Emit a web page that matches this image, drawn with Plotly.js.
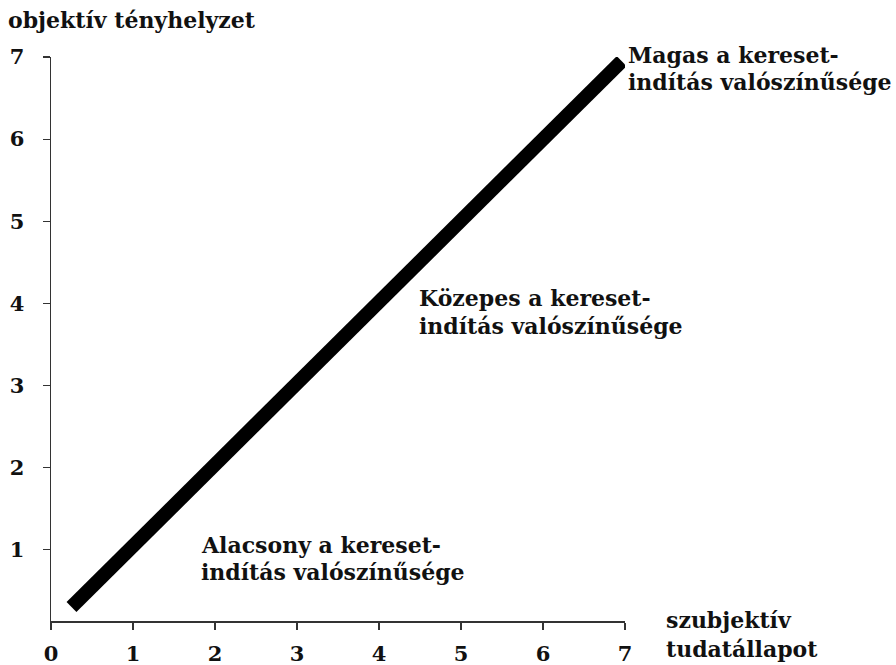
<!DOCTYPE html>
<html>
<head>
<meta charset="utf-8">
<script src="https://cdn.plot.ly/plotly-3.0.1.min.js"></script>
<style>html,body{margin:0;padding:0;background:#fff;}#chart{width:896px;height:665px;}</style>
</head>
<body>
<div id="chart"></div>
<script>
// Data
const lineX = [0.25, 6.96];
const lineY = [0.30, 6.95];
const xTicks = [0, 1, 2, 3, 4, 5, 6, 7];
const yTicks = [1, 2, 3, 4, 5, 6, 7];
const yAxisLabel = "objektív tényhelyzet";
const xAxisLabelLines = ["szubjektív", "tudatállapot"];
const highLabelLines = ["Magas a kereset-", "indítás valószínűsége"];
const midLabelLines = ["Közepes a kereset-", "indítás valószínűsége"];
const lowLabelLines = ["Alacsony a kereset-", "indítás valószínűsége"];

const FONT = "'DejaVu Serif', 'Liberation Serif', serif";
const W = 896, H = 665;
const L = 51, R = 271, T = 57, B = 44;
const pw = W - L - R, ph = H - T - B;
const px = x => (x - L) / pw;
const py = y => (H - B - y) / ph;

function textLines(lines, left, firstCenter, spacing, size) {
  return lines.map((t, i) => ({
    text: "<b>" + t + "</b>",
    xref: "paper", yref: "paper",
    x: px(left), y: py(firstCenter + i * spacing),
    xanchor: "left", yanchor: "middle",
    showarrow: false,
    font: {family: FONT, size: size, color: "#111"}
  }));
}

const annotations = [].concat(
  textLines([yAxisLabel], 6, 20, 0, 22),
  textLines(highLabelLines, 626, 55, 27, 22),
  textLines(midLabelLines, 417, 298, 28, 22),
  textLines(lowLabelLines, 199, 545, 27, 22),
  textLines(xAxisLabelLines, 664, 620, 29, 22)
);

const trace = {
  x: lineX, y: lineY, mode: "lines", type: "scatter",
  line: {color: "#000", width: 14},
  hoverinfo: "skip"
};

const axisCommon = {
  showgrid: false, zeroline: false, showline: true,
  linecolor: "#333", linewidth: 1.5,
  ticks: "outside", ticklen: 7, tickcolor: "#333", tickwidth: 1.2,
  tickfont: {family: FONT, size: 21, color: "#111"},
  fixedrange: true
};

const layout = {
  width: W, height: H, autosize: false,
  margin: {l: L, r: R, t: T, b: B, pad: 0},
  paper_bgcolor: "#fff", plot_bgcolor: "#fff",
  showlegend: false,
  xaxis: Object.assign({}, axisCommon, {
    range: [0, 7], tickvals: xTicks, ticktext: xTicks.map(v => "<b>" + v + "</b>"),
    ticklabelstandoff: 6
  }),
  yaxis: Object.assign({}, axisCommon, {
    range: [0.13, 7], tickvals: yTicks, ticktext: yTicks.map(v => "<b>" + v + "</b>"),
    ticklabelstandoff: 14
  }),
  annotations: annotations
};

Plotly.newPlot("chart", [trace], layout, {displayModeBar: false, staticPlot: true});
</script>
</body>
</html>
